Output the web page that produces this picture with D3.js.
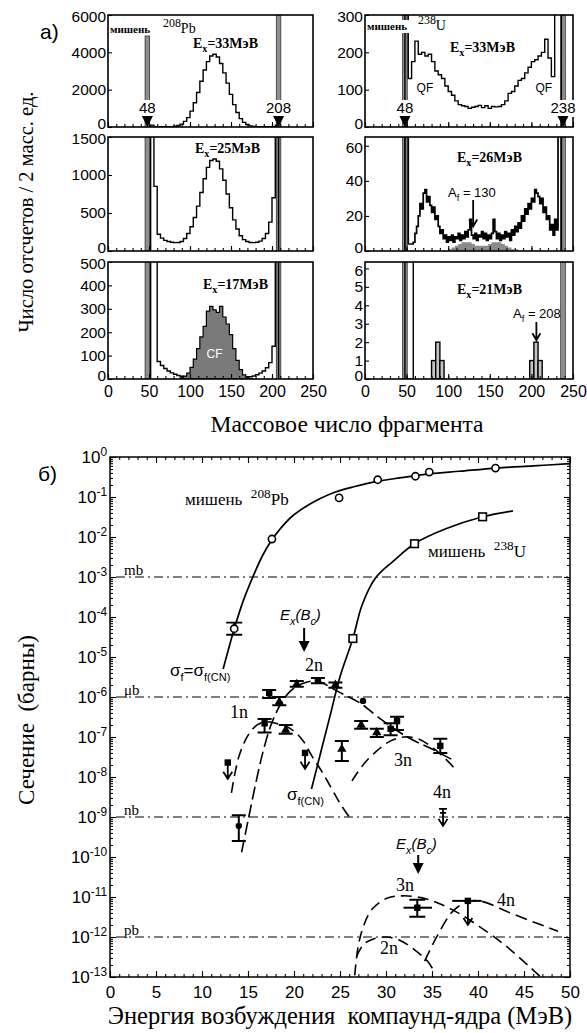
<!DOCTYPE html>
<html><head><meta charset="utf-8">
<script src="https://cdn.jsdelivr.net/npm/d3@7/dist/d3.min.js"></script>
<style>
html,body{margin:0;padding:0;background:#fff;}
svg{display:block;}
text{white-space:pre;}
</style></head>
<body>
<svg id="chart" width="587" height="1033" xmlns="http://www.w3.org/2000/svg"></svg>
<script>
// ================= DATA =================
const massTicks = [0, 50, 100, 150, 200, 250];
const marksPb = [48, 208];
const marksU = [48, 238];

// 48Ca + 208Pb mass spectra (bins of 4 mass units, bin starts)
const pbBins = d3.range(52, 208, 4);
const pb33 = [100,20,10,10,10,10,20,40,80,150, 300,500,850,1300,1850,2450,3050,3500,3800,3900,
              3750,3400,2900,2350,1750,1200,780,450,250,130, 60,30,15,10,10,10,10,20,100];
const pb25 = [3000,850,220,170,140,125,115,110,112,125, 165,230,320,440,590,770,950,1100,1190,1210,
              1180,1080,930,750,570,410,290,200,150,125, 112,110,115,130,165,230,380,700,3000];
const pb17qf = [900,900,75,58,45,34,26,20,15,12, 10,9,8,8,8,8,8,8,8,8,
                8,8,8,8,8,8,8,8,8,9, 10,13,18,25,34,48,70,140,900];
const cfBins = d3.range(88, 176, 4);
const pb17cf = [5,12,25,50,85,130,180,225,290,310,295,285,310,265,235,190,130,80,40,18,8,3];

// 48Ca + 238U mass spectra
const u33Bins = d3.range(48, 236, 4);
const u33 = [400,130,175,230,195,200,190,195,175,150, 140,130,110,95,85,70,60,57,55,50,
             53,55,58,52,57,50,55,54,55,60, 70,90,95,110,125,130,145,160,175,180,
             190,200,235,185,135,400,400];
const u26Bins = d3.range(48, 236, 2);
const u26 = [70,70,4,4,4,5,10,14,20,27, 24,33,35,28,31,26,22,25,18,20,
             14,10,12,7,9,5,8,6,9,5, 8,7,10,6,9,7,11,8,12,18,
             9,7,10,6,9,8,11,7,10,6, 9,7,10,18,11,7,10,6,9,7,
             11,8,10,6,12,9,14,11,16,13, 20,17,24,21,27,24,30,28,35,33,
             31,27,30,22,25,18,20,12,15,9, 18,12,70,70];
const u26cfBins = d3.range(100, 184, 4);
const u26cf = [1,2,3,4,5,5,5,4,3,3,3,3,4,5,5,5,4,3,2,1,1];
const u21Lo = [48, 80, 85, 90, 198, 203, 208];
const u21Hi = [58, 85, 90, 95, 203, 208, 213];
const u21 = [99, 1, 2, 1, 1, 2, 1];

const yTicksPb33 = [0, 2000, 4000, 6000];
const yTicksPb25 = [0, 500, 1000, 1500];
const yTicksPb17 = [0, 100, 200, 300, 400, 500];
const yTicksU33 = [0, 100, 200, 300];
const yTicksU26 = [0, 20, 40, 60];
const yTicksU21 = [0, 1, 2, 3, 4, 5, 6];

// Cross sections vs excitation energy
const eTicks = [0, 5, 10, 15, 20, 25, 30, 35, 40, 45, 50];
const pbFisE = [13.5, 17.6, 24.9, 29.1, 33.2, 34.7, 41.9];
const pbFisS = [5.1e-5, 8.9e-3, 0.095, 0.27, 0.33, 0.42, 0.53];
const pbFisLo = [3.6e-5, null, null, null, null, null, null];
const pbFisHi = [7.2e-5, null, null, null, null, null, null];
const uFisE = [26.4, 33.1, 40.5];
const uFisS = [2.9e-5, 6.8e-3, 0.032];

const pbCurveE = [12.3, 13.5, 14.5, 15.6, 16.6, 17.6, 18.5, 19.8, 21.2, 22.8, 24.5, 26.5, 29, 31.5, 34.8, 38, 42, 46, 50];
const pbCurveS = [5e-6, 5e-5, 2.6e-4, 1.1e-3, 3.5e-3, 8.5e-3, 1.6e-2, 3.3e-2, 5.6e-2, 9e-2, 0.133, 0.18, 0.245, 0.3, 0.38, 0.44, 0.53, 0.6, 0.68];
const uCurveE = [21.9, 23, 24, 25, 26.4, 27.4, 28.8, 30.8, 33.1, 36.5, 40.5, 43.8];
const uCurveS = [5e-9, 5e-8, 4e-7, 3.2e-6, 2.9e-5, 2e-4, 9.1e-4, 2.5e-3, 6.8e-3, 1.6e-2, 3.2e-2, 4.5e-2];

const pb1nE = [13.2, 14.0, 15.0, 16.0, 17.0, 18.0, 19.0, 20.0, 21.0, 22.0, 23.0, 24.0, 25.0, 26.0];
const pb1nS = [4e-9, 3.2e-8, 1.1e-7, 2e-7, 2.4e-7, 2.2e-7, 1.9e-7, 1.4e-7, 7.9e-8, 3.2e-8, 1.4e-8, 5.6e-9, 2.2e-9, 1e-9];
const pb2nE = [14.3, 15.0, 15.8, 16.6, 17.5, 18.5, 19.6, 21, 22.5, 24.7, 27.2, 29.1, 32.3, 35, 37.5];
const pb2nS = [1.3e-10, 8e-10, 6.3e-9, 4e-8, 2e-7, 6.3e-7, 1.4e-6, 2.2e-6, 2.5e-6, 1.4e-6, 7e-7, 3.2e-7, 1e-7, 5e-8, 2.5e-8];
const pb3nE = [26.3, 27.5, 29, 30.5, 32, 33.5, 35, 36.5, 37.5];
const pb3nS = [8e-9, 2e-8, 4.5e-8, 8e-8, 1e-7, 9e-8, 5.6e-8, 2.8e-8, 1.6e-8];
const u2nE = [26.8, 27.5, 28.5, 30, 31.5, 33, 34.5, 35.3];
const u2nS = [3.2e-13, 6.3e-13, 8.7e-13, 1e-12, 8.3e-13, 5e-13, 2.5e-13, 1.3e-13];
const u3nE = [26.6, 27.0, 27.6, 28.5, 30.1, 31.9, 34.4, 37.3, 40.2, 43.1, 45.6, 46.8];
const u3nS = [1.1e-13, 6.3e-13, 2e-12, 5e-12, 9.3e-12, 1.07e-11, 8.9e-12, 4.7e-12, 1.8e-12, 5.8e-13, 1.8e-13, 1e-13];
const u4nE = [34.2, 35.6, 37.3, 38.9, 40.2, 43.5, 46.4, 48.7];
const u4nS = [2.5e-13, 1.1e-12, 4.5e-12, 7.6e-12, 8e-12, 4e-12, 2.2e-12, 1.4e-12];

// evaporation residue points with error bars
const erE   = [17.3, 18.4, 20.3, 22.6, 24.5, 16.8, 19.1, 14.0, 25.2, 27.3, 29.0, 30.5, 31.2, 35.9, 27.5, 33.4];
const erS   = [1.25e-6, 7.5e-7, 2.1e-6, 2.6e-6, 2.0e-6, 2.2e-7, 1.5e-7, 6e-10, 5e-8, 2.0e-7, 1.3e-7, 1.6e-7, 2.5e-7, 6e-8, 8e-7, 5.4e-12];
const erLo  = [0.95e-6, 6.2e-7, 1.8e-6, 2.2e-6, 1.7e-6, 1.3e-7, 1.2e-7, 2.5e-10, 2.5e-8, 1.6e-7, 1.0e-7, 1.1e-7, 1.5e-7, 4e-8, 8e-7, 3.2e-12];
const erHi  = [1.5e-6, 1.0e-6, 2.5e-6, 3.0e-6, 2.3e-6, 2.8e-7, 2.0e-7, 1.1e-9, 8e-8, 2.5e-7, 1.6e-7, 2.2e-7, 3.2e-7, 9e-8, 8e-7, 8.5e-12];
const erEx0 = [null, null, null, null, null, null, null, null, null, null, null, null, null, null, null, 31.9];
const erEx1 = [null, null, null, null, null, null, null, null, null, null, null, null, null, null, null, 35.0];
const erMark = ['sq','tri','tri','sq','tri','sq','tri','dot','tri','tri','tri','sq','sq','sq','dot','sq'];

// upper limits
const ulE   = [12.8, 21.2, 36.2, 38.9];
const ulTop = [2.3e-8, 4e-8, 1.6e-9, 8e-12];
const ulBot = [9e-9, 1.6e-8, 6e-10, 2e-12];
const ulEx0 = [null, null, null, 37.2];
const ulEx1 = [null, null, null, 40.4];
const ulMark = ['sq','sq','cap','sq'];

const unitLines = [1e-3, 1e-6, 1e-9, 1e-12];
const unitNames = ['mb', 'μb', 'nb', 'pb'];

// ================= DRAWING =================
const svg = d3.select('#chart');
const SANS = '"Liberation Sans", Arial, Helvetica, sans-serif';
const SERIF = '"Liberation Serif", "Times New Roman", Times, serif';
const defs = svg.append('defs');
let clipN = 0;

function richText(parent, x, y, parts, o) {
  const fs = o.fs;
  const t = parent.append('text').attr('x', x).attr('y', y)
    .attr('font-family', o.ff).attr('font-size', fs)
    .attr('font-weight', o.fw || 'normal').attr('font-style', o.fst || 'normal')
    .attr('text-anchor', o.anchor || 'start').attr('fill', o.fill || '#000');
  if (o.rotate) t.attr('transform', `rotate(${o.rotate},${x},${y})`);
  let cur = 0;
  parts.forEach(([s, k]) => {
    const off = k === 'sub' ? fs * 0.32 : (k === 'sup' ? -fs * 0.42 : 0);
    t.append('tspan').attr('dy', (off - cur).toFixed(2))
      .attr('font-size', k === 'n' ? fs : fs * (o.small || 0.72)).text(s);
    cur = off;
  });
  return t;
}

// ---------- top panels ----------
const colL = [108, 313], colR = [365, 573];
const rows = [[15, 127], [137, 251], [262, 379]];

function makePanel(px, py, ymax, yticks) {
  const x = d3.scaleLinear().domain([0, 250]).range(px);
  const y = d3.scaleLinear().domain([0, ymax]).range([py[1], py[0]]);
  const id = 'clip' + (clipN++);
  defs.append('clipPath').attr('id', id).append('rect')
    .attr('x', px[0]).attr('y', py[0]).attr('width', px[1] - px[0]).attr('height', py[1] - py[0]);
  const g = svg.append('g');
  const inner = g.append('g').attr('clip-path', `url(#${id})`);
  return { x, y, g, inner, px, py, yticks, ymax };
}

function band(p, m, yTop) {
  const t = yTop == null ? p.py[0] : yTop;
  p.inner.append('rect').attr('x', p.x(m) - 2.3).attr('y', t)
    .attr('width', 4.6).attr('height', p.py[1] - t)
    .attr('fill', '#8e8e8e').attr('stroke', '#222').attr('stroke-width', 0.7);
}

function stepPts(bins, w, vals) {
  const pts = [[bins[0], 0]];
  bins.forEach((b, i) => pts.push([b, vals[i]]));
  pts.push([bins[bins.length - 1] + w, 0]);
  return pts;
}

function histLine(p, bins, w, vals, sw) {
  const line = d3.line().x(d => p.x(d[0])).y(d => p.y(d[1])).curve(d3.curveStepAfter);
  p.inner.append('path').attr('d', line(stepPts(bins, w, vals)))
    .attr('fill', 'none').attr('stroke', '#000').attr('stroke-width', sw || 1.4);
}

function histArea(p, bins, w, vals, fill, stroke) {
  const area = d3.area().x(d => p.x(d[0])).y0(p.y(0)).y1(d => p.y(d[1])).curve(d3.curveStepAfter);
  p.inner.append('path').attr('d', area(stepPts(bins, w, vals)))
    .attr('fill', fill).attr('stroke', stroke || 'none').attr('stroke-width', 1.2);
}

function triMark(p, m, label) {
  const cx = p.x(m), by = p.py[1];
  const t = p.g.append('text').attr('x', cx).attr('y', by - 14).attr('text-anchor', 'middle')
    .attr('font-family', SANS).attr('font-size', 15).text(label);
  const bb = t.node().getBBox();
  p.g.insert('rect', () => t.node()).attr('x', bb.x - 1).attr('y', bb.y + 1)
    .attr('width', bb.width + 2).attr('height', bb.height).attr('fill', '#fff');
  p.g.append('path').attr('d', `M${cx - 5.5},${by - 11}L${cx + 5.5},${by - 11}L${cx},${by}Z`).attr('fill', '#000');
}

function styleAxis(a, fs) {
  a.attr('font-family', SANS).attr('font-size', fs);
  a.select('.domain').remove();
  a.selectAll('text').attr('fill', '#000');
  a.selectAll('line').attr('stroke', '#000').attr('stroke-width', 1.1);
  return a;
}

function finishPanel(p, showX) {
  const g = p.g;
  styleAxis(g.append('g').attr('transform', `translate(0,${p.py[1]})`)
    .call(d3.axisBottom(p.x).tickValues(d3.range(0, 251, 10)).tickSize(-3).tickFormat('')), 16);
  styleAxis(g.append('g').attr('transform', `translate(0,${p.py[1]})`)
    .call(d3.axisBottom(p.x).tickValues(massTicks).tickSize(-5).tickPadding(7)
      .tickFormat(showX ? d3.format('d') : '')), 16);
  const ay = styleAxis(g.append('g').attr('transform', `translate(${p.px[0]},0)`)
    .call(d3.axisLeft(p.y).tickValues(p.yticks).tickSize(-4).tickPadding(2).tickFormat(d3.format('d'))), 15.5);
  ay.selectAll('.tick text').attr('transform', d => d === 0 ? 'translate(0,-3)' : (d === p.yticks[p.yticks.length - 1] ? 'translate(0,2)' : null));
  g.append('rect').attr('x', p.px[0]).attr('y', p.py[0])
    .attr('width', p.px[1] - p.px[0]).attr('height', p.py[1] - p.py[0])
    .attr('fill', 'none').attr('stroke', '#000').attr('stroke-width', 1.6);
}

// Pb, Ex=33
const L1 = makePanel(colL, rows[0], 6000, yTicksPb33);
band(L1, marksPb[0], 36); band(L1, marksPb[1]);
histLine(L1, pbBins, 4, pb33);
finishPanel(L1, false);
triMark(L1, marksPb[0], '48'); triMark(L1, marksPb[1], '208');
richText(svg, 110, 33, [['мишень', 'n']], { ff: SERIF, fs: 11, fw: 'bold' });
richText(svg, 163, 33, [['208', 'sup'], ['Pb', 'n']], { ff: SERIF, fs: 14, small: 0.85 });
richText(svg, 193, 48, [['E', 'n'], ['x', 'sub'], ['=33MэB', 'n']], { ff: SERIF, fs: 14, fw: 'bold' });

// Pb, Ex=25
const L2 = makePanel(colL, rows[1], 1500, yTicksPb25);
band(L2, marksPb[0]); band(L2, marksPb[1]);
histLine(L2, pbBins, 4, pb25);
finishPanel(L2, false);
richText(svg, 195, 153, [['E', 'n'], ['x', 'sub'], ['=25MэB', 'n']], { ff: SERIF, fs: 14, fw: 'bold' });

// Pb, Ex=17
const L3 = makePanel(colL, rows[2], 500, yTicksPb17);
band(L3, marksPb[0]); band(L3, marksPb[1]);
histLine(L3, pbBins, 4, pb17qf);
histArea(L3, cfBins, 4, pb17cf, '#7a7a7a', '#000');
finishPanel(L3, true);
L3.g.append('text').attr('x', L3.x(130)).attr('y', L3.y(90)).attr('text-anchor', 'middle')
  .attr('font-family', SANS).attr('font-size', 12).attr('fill', '#fff').text('CF');
richText(svg, 203, 289, [['E', 'n'], ['x', 'sub'], ['=17MэB', 'n']], { ff: SERIF, fs: 14, fw: 'bold' });

// U, Ex=33
const R1 = makePanel(colR, rows[0], 300, yTicksU33);
band(R1, marksU[0]); band(R1, marksU[1]);
histLine(R1, u33Bins, 4, u33);
R1.g.append('rect').attr('x', 366).attr('y', 20).attr('width', 46).attr('height', 13).attr('fill', '#fff');
finishPanel(R1, false);
triMark(R1, marksU[0], '48'); triMark(R1, marksU[1], '238');
richText(svg, 367, 30, [['мишень', 'n']], { ff: SERIF, fs: 11, fw: 'bold' });
richText(svg, 418, 30, [['238', 'sup'], ['U', 'n']], { ff: SERIF, fs: 14, small: 0.85 });
richText(svg, 450, 52, [['E', 'n'], ['x', 'sub'], ['=33MэB', 'n']], { ff: SERIF, fs: 14, fw: 'bold' });
R1.g.append('text').attr('x', R1.x(72)).attr('y', 92).attr('text-anchor', 'middle')
  .attr('font-family', SANS).attr('font-size', 12).text('QF');
R1.g.append('text').attr('x', R1.x(215)).attr('y', 92).attr('text-anchor', 'middle')
  .attr('font-family', SANS).attr('font-size', 12).text('QF');

// U, Ex=26
const R2 = makePanel(colR, rows[1], 65, yTicksU26);
band(R2, marksU[0]); band(R2, marksU[1]);
histArea(R2, u26cfBins, 4, u26cf, '#8a8a8a');
histLine(R2, u26Bins, 2, u26, 1.7);
finishPanel(R2, false);
richText(svg, 457, 162, [['E', 'n'], ['x', 'sub'], ['=26MэB', 'n']], { ff: SERIF, fs: 14, fw: 'bold' });
richText(svg, 448, 197, [['A', 'n'], ['f', 'sub'], [' = 130', 'n']], { ff: SANS, fs: 13 });
R2.g.append('path').attr('d', `M${R2.x(130)},200V${R2.y(14)}M${R2.x(130) - 4},${R2.y(14) - 7}L${R2.x(130)},${R2.y(14)}L${R2.x(130) + 4},${R2.y(14) - 7}`)
  .attr('fill', 'none').attr('stroke', '#000').attr('stroke-width', 1.8);

// U, Ex=21
const R3 = makePanel(colR, rows[2], 6.35, yTicksU21);
band(R3, marksU[0]); band(R3, marksU[1]);
u21Lo.forEach((lo, i) => {
  R3.inner.append('rect').attr('x', R3.x(lo)).attr('y', R3.y(u21[i]))
    .attr('width', R3.x(u21Hi[i]) - R3.x(lo)).attr('height', R3.y(0) - R3.y(u21[i]))
    .attr('fill', u21[i] > 10 ? 'none' : '#c4c4c4').attr('stroke', '#000').attr('stroke-width', 1.4);
});
finishPanel(R3, true);
richText(svg, 457, 294, [['E', 'n'], ['x', 'sub'], ['=21MэB', 'n']], { ff: SERIF, fs: 14, fw: 'bold' });
richText(svg, 513, 318, [['A', 'n'], ['f', 'sub'], [' = 208', 'n']], { ff: SANS, fs: 13 });
R3.g.append('path').attr('d', `M${R3.x(206)},322V${R3.y(2.1)}M${R3.x(206) - 4},${R3.y(2.1) - 7}L${R3.x(206)},${R3.y(2.1)}L${R3.x(206) + 4},${R3.y(2.1) - 7}`)
  .attr('fill', 'none').attr('stroke', '#000').attr('stroke-width', 1.8);

// labels of the top figure
richText(svg, 40, 39, [['а)', 'n']], { ff: SANS, fs: 21 });
richText(svg, 33, 212, [['Число отсчетов / 2 масс. ед.', 'n']], { ff: SERIF, fs: 20.5, anchor: 'middle', rotate: -90 });
richText(svg, 347, 432, [['Массовое число фрагмента', 'n']], { ff: SERIF, fs: 23.5, anchor: 'middle' });

// ---------- bottom chart ----------
const xE = d3.scaleLinear().domain([0, 50]).range([110, 570]);
const yS = d3.scaleLog().domain([1e-13, 1]).range([977, 457]);
const bg = svg.append('g');
const bclip = 'clip' + (clipN++);
defs.append('clipPath').attr('id', bclip).append('rect').attr('x', 110).attr('y', 457).attr('width', 460).attr('height', 520);
const bin = bg.append('g').attr('clip-path', `url(#${bclip})`);

const decades = d3.range(-13, 1).map(p => Math.pow(10, p));
const minorLog = [];
d3.range(-13, 0).forEach(p => d3.range(2, 10).forEach(k => minorLog.push(k * Math.pow(10, p))));

function axisGroup(gen, tx, ty, fs) {
  return styleAxis(bg.append('g').attr('transform', `translate(${tx},${ty})`).call(gen), fs || 17);
}
axisGroup(d3.axisBottom(xE).tickValues(d3.range(0, 51, 1)).tickSize(-3).tickFormat(''), 0, 977);
axisGroup(d3.axisTop(xE).tickValues(d3.range(0, 51, 1)).tickSize(-3).tickFormat(''), 0, 457);
axisGroup(d3.axisTop(xE).tickValues(eTicks).tickSize(-6).tickFormat(''), 0, 457);
axisGroup(d3.axisBottom(xE).tickValues(eTicks).tickSize(-6).tickPadding(9), 0, 977, 17);
axisGroup(d3.axisLeft(yS).tickValues(minorLog).tickSize(-3).tickFormat(''), 110, 0);
axisGroup(d3.axisLeft(yS).tickValues(decades).tickSize(-6).tickFormat(''), 110, 0);
axisGroup(d3.axisRight(yS).tickValues(minorLog).tickSize(-3).tickFormat(''), 570, 0);
axisGroup(d3.axisRight(yS).tickValues(decades).tickSize(-6).tickFormat(''), 570, 0);
decades.forEach(v => {
  const p = Math.round(Math.log10(v));
  richText(bg, 107, yS(v) + 6, [['10', 'n'], [p === 0 ? '0' : String(p), 'sup']], { ff: SANS, fs: 17, anchor: 'end', small: 0.7 });
});
bg.append('rect').attr('x', 110).attr('y', 457).attr('width', 460).attr('height', 520)
  .attr('fill', 'none').attr('stroke', '#000').attr('stroke-width', 1.5);

// unit lines
unitLines.forEach((v, i) => {
  bin.append('line').attr('x1', 116).attr('x2', 570).attr('y1', yS(v)).attr('y2', yS(v))
    .attr('stroke', '#000').attr('stroke-width', 1).attr('stroke-dasharray', '9,4,2,4');
  richText(bg, 124, yS(v) - 2, [[unitNames[i], 'n']], { ff: SERIF, fs: 15 });
});

// curves
const lineGen = d3.line().x(d => xE(d[0])).y(d => yS(d[1])).curve(d3.curveCatmullRom.alpha(0.5));
function curve(E, S, dash, sw) {
  bin.append('path').attr('d', lineGen(d3.zip(E, S))).attr('fill', 'none')
    .attr('stroke', '#000').attr('stroke-width', sw || 1.6).attr('stroke-dasharray', dash || null);
}
curve(pbCurveE, pbCurveS, null, 1.7);
curve(uCurveE, uCurveS, null, 1.7);
curve(pb1nE, pb1nS, '11,6');
curve(pb2nE, pb2nS, '13,5');
curve(pb3nE, pb3nS, '11,6');
curve(u2nE, u2nS, '11,6');
curve(u3nE, u3nS, '11,6');
curve(u4nE, u4nS, '12,6');

// fission points
pbFisE.forEach((e, i) => {
  if (pbFisLo[i] != null) {
    const cx = xE(e);
    bin.append('path').attr('d', `M${cx},${yS(pbFisHi[i])}V${yS(pbFisLo[i])}M${cx - 8},${yS(pbFisHi[i])}h16M${cx - 8},${yS(pbFisLo[i])}h16`)
      .attr('stroke', '#000').attr('stroke-width', 1.8).attr('fill', 'none');
  }
  bin.append('circle').attr('cx', xE(e)).attr('cy', yS(pbFisS[i])).attr('r', 3.6)
    .attr('fill', '#fff').attr('stroke', '#000').attr('stroke-width', 1.6);
});
uFisE.forEach((e, i) => {
  bin.append('rect').attr('x', xE(e) - 3.8).attr('y', yS(uFisS[i]) - 3.8).attr('width', 7.6).attr('height', 7.6)
    .attr('fill', '#fff').attr('stroke', '#000').attr('stroke-width', 1.6);
});

function marker(kind, cx, cy) {
  if (kind === 'sq') bin.append('rect').attr('x', cx - 3.2).attr('y', cy - 3.2).attr('width', 6.4).attr('height', 6.4).attr('fill', '#000');
  else if (kind === 'tri') bin.append('path').attr('d', d3.symbol(d3.symbolTriangle, 38)()).attr('transform', `translate(${cx},${cy})`).attr('fill', '#000');
  else if (kind === 'dot') bin.append('circle').attr('cx', cx).attr('cy', cy).attr('r', 3.2).attr('fill', '#000');
}
erE.forEach((e, i) => {
  const cx = xE(e), cy = yS(erS[i]);
  if (erHi[i] !== erLo[i]) {
    const hw = erEx0[i] != null ? 8 : 7;
    bin.append('path').attr('d', `M${cx},${yS(erHi[i])}V${yS(erLo[i])}M${cx - hw},${yS(erHi[i])}h${2 * hw}M${cx - hw},${yS(erLo[i])}h${2 * hw}`)
      .attr('stroke', '#000').attr('stroke-width', 2).attr('fill', 'none');
  }
  if (erEx0[i] != null) {
    bin.append('line').attr('x1', xE(erEx0[i])).attr('x2', xE(erEx1[i])).attr('y1', cy).attr('y2', cy)
      .attr('stroke', '#000').attr('stroke-width', 2);
  }
  marker(erMark[i], cx, cy);
});
ulE.forEach((e, i) => {
  const cx = xE(e), yt = yS(ulTop[i]), yb = yS(ulBot[i]);
  bin.append('path').attr('d', `M${cx},${yt}V${yb}M${cx - 4.5},${yb - 7}L${cx},${yb}L${cx + 4.5},${yb - 7}`)
    .attr('stroke', '#000').attr('stroke-width', 1.8).attr('fill', 'none');
  if (ulEx0[i] != null) {
    bin.append('line').attr('x1', xE(ulEx0[i])).attr('x2', xE(ulEx1[i])).attr('y1', yt).attr('y2', yt)
      .attr('stroke', '#000').attr('stroke-width', 2);
  }
  if (ulMark[i] === 'cap') {
    bin.append('path').attr('d', `M${cx - 4},${yt}h8M${cx - 3},${yt + 4}h6`).attr('stroke', '#000').attr('stroke-width', 1.6);
  } else marker(ulMark[i], cx, yt);
});

// E_x(B_c) arrows
function bcArrow(e, yTop, yTip) {
  const cx = xE(e);
  bg.append('path').attr('d', `M${cx},${yTop}V${yTip - 8}`).attr('stroke', '#000').attr('stroke-width', 2);
  bg.append('path').attr('d', `M${cx - 5.5},${yTip - 11}L${cx + 5.5},${yTip - 11}L${cx},${yTip}Z`).attr('fill', '#000');
}
bcArrow(21.1, 628, 652);
richText(bg, 280, 620, [['E', 'n'], ['x', 'sub'], ['(B', 'n'], ['c', 'sub'], [')', 'n']], { ff: SANS, fs: 15, fst: 'italic' });
bcArrow(33.5, 855, 874);
richText(bg, 396, 849, [['E', 'n'], ['x', 'sub'], ['(B', 'n'], ['c', 'sub'], [')', 'n']], { ff: SANS, fs: 15, fst: 'italic' });

// texts of the bottom chart
richText(bg, 185, 505, [['мишень  ', 'n'], ['208', 'sup'], ['Pb', 'n']], { ff: SERIF, fs: 17, small: 0.78 });
richText(bg, 428, 557, [['мишень  ', 'n'], ['238', 'sup'], ['U', 'n']], { ff: SERIF, fs: 17, small: 0.78 });
richText(bg, 170, 676, [['σ', 'n'], ['f', 'sub'], ['=σ', 'n'], ['f(CN)', 'sub']], { ff: SANS, fs: 17, small: 0.65 });
richText(bg, 287, 800, [['σ', 'n'], ['f(CN)', 'sub']], { ff: SANS, fs: 17, small: 0.65 });
const nLabels = [['1n', 230, 718], ['2n', 305, 671], ['3n', 394, 766], ['4n', 433, 798], ['3n', 396, 891], ['4n', 497, 906], ['2n', 380, 954]];
nLabels.forEach(d => richText(bg, d[1], d[2], [[d[0], 'n']], { ff: SERIF, fs: 18 }));
richText(bg, 38, 481, [['б)', 'n']], { ff: SANS, fs: 21 });
richText(bg, 34, 720, [['Сечение  (барны)', 'n']], { ff: SERIF, fs: 23, anchor: 'middle', rotate: -90 });
richText(bg, 340, 1024, [['Энергия возбуждения  компаунд-ядра (МэВ)', 'n']], { ff: SERIF, fs: 24.5, anchor: 'middle' });
</script>
</body></html>
